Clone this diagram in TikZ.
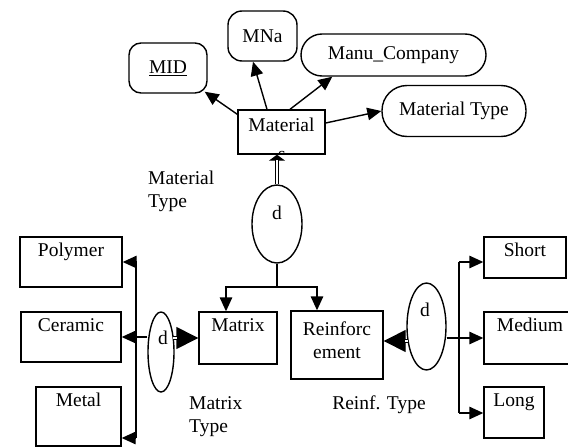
\documentclass[tikz,border=0pt]{standalone}
\usepackage{fontspec}
\setmainfont{Liberation Serif}
\usetikzlibrary{positioning, arrows.meta}
\usetikzlibrary{shapes.geometric}
\tikzstyle{ent}=[rectangle, draw, line width=1.4pt, inner sep=0pt]
\tikzstyle{attr}=[rectangle, draw, line width=1.4pt, inner sep=2pt]
\tikzstyle{disj}=[ellipse, draw, line width=1.4pt, inner sep=0pt]
\tikzstyle{txt}=[inner sep=0pt, text height=13.5pt, text depth=4.3pt]
\tikzstyle{ltxt}=[inner sep=0pt, align=left]
\tikzstyle{conn}=[line width=1.4pt]
\tikzstyle{arr}=[conn, -{Triangle[length=14pt,width=12.5pt]}]
\tikzstyle{isa}=[conn, -{Triangle[length=22pt,width=22pt]}]
\tikzstyle{dbl}=[double, double distance=2.4pt, line width=1.2pt]

\begin{document}
\begin{tikzpicture}[x=1pt, y=-1pt, font=\fontsize{19.5}{23}\selectfont]
\useasboundingbox (0,0) rectangle (568,447);

% Material and its attributes
\node[ent, minimum width=87pt, minimum height=44pt] (mat) at (281.5,132) {};
\node[txt] (matT) at ([yshift=-18pt]mat.north) {Material};
\begin{scope}
\clip (mat.south west) rectangle (mat.north east);
\node[txt] (matS) at (282,156) {s};
\end{scope}

\node[attr, rounded corners=12pt, minimum width=78pt, minimum height=50pt] (mid) at (168,68) {\underline{MID}\hspace{14pt}};
\node[attr, rounded corners=14pt, minimum width=69pt, minimum height=50pt] (mna) at (262.5,36) {MNa\hspace{6pt}};
\node[attr, rounded corners=21pt, minimum width=185pt, minimum height=42pt] (manu) at (393.5,55) {Manu\_Company\hspace{16pt}};
\node[attr, rounded corners=25pt, minimum width=144pt, minimum height=51pt] (mtype) at (454,111) {Material Type};

\draw[arr] ([yshift=-5pt]mat.north west) -- ([xshift=-3pt,yshift=2pt]mid.south east);
\draw[arr] ([xshift=-14.5pt]mat.north) -- ([xshift=-9.5pt]mna.south);
\draw[arr] ([xshift=8.5pt]mat.north) -- ([xshift=32pt]manu.south west);
\draw[arr] ([yshift=9pt]mat.east) -- (mtype.west);

% disjoint Material Type
\node[disj, minimum width=50pt, minimum height=78pt] (dtop) at (277,224) {};
\node[txt] (dtopT) at (277,215) {d};
\node[ltxt, anchor=west] (matTypeL) at (148,191.5) {Material\\Type};

\draw[conn, -{Triangle[length=6pt,width=16pt]}] (dtop.north) -- (dtop.north |- mat.south);
\draw[dbl, shorten >=5pt] (dtop.north) -- (dtop.north |- mat.south);

\node[ent, minimum width=78pt, minimum height=52pt] (matrixB) at (238,338) {};
\node[txt] (matrixT) at ([yshift=-16pt]matrixB.north) {Matrix};
\node[ent, minimum width=92pt, minimum height=68pt] (reinf) at (337,345) {};
\node[ltxt, align=center] (reinfT) at (337,340) {Reinforc\\ement};

\coordinate (jt) at (277,287);
\draw[conn] (dtop.south) -- (jt);
\draw[arr] (jt) -| ([xshift=-12pt]matrixB.north);
\draw[arr] (jt) -| ([xshift=-20pt]reinf.north);

% Matrix Type
\node[disj, minimum width=26pt, minimum height=80pt] (dleft) at (161,352) {};
\node[txt] (dleftT) at (163,340) {d};
\node[ltxt, anchor=west] (matrixTypeL) at (189,416.5) {Matrix\\Type};

\node[ent, minimum width=102pt, minimum height=50pt] (polymer) at (71,262) {};
\node[txt] (polymerT) at ([yshift=-16pt]polymer.north) {Polymer};
\node[ent, minimum width=100pt, minimum height=50pt] (ceramic) at (71,337) {};
\node[txt] (ceramicT) at ([yshift=-16pt]ceramic.north) {Ceramic};
\node[ent, minimum width=85pt, minimum height=59pt] (metal) at (78.5,416.5) {};
\node[txt] (metalT) at ([yshift=-16pt]metal.north) {Metal};

\coordinate (lbarT) at (136,262);
\coordinate (lbarB) at (136,438);
\draw[conn] (lbarT) -- (lbarB);
\draw[arr] (lbarT) -- (polymer.east |- lbarT);
\draw[arr] (lbarT |- ceramic.east) -- (ceramic.east);
\draw[arr] (lbarB) -- (metal.east |- lbarB);
\draw[conn] (dleft.west |- ceramic.east) -- (lbarT |- ceramic.east);

\draw[isa] (dleft.east |- matrixB.west) -- (matrixB.west);
\draw[dbl, shorten >=21pt] ([xshift=-2pt]dleft.east |- matrixB.west) -- (matrixB.west);

% Reinf. Type
\node[disj, minimum width=39pt, minimum height=87pt] (dright) at (426.5,326.5) {};
\node[txt] (drightT) at (425,312) {d};
\node[ltxt] (reinfTypeL) at (379,405) {Reinf. Type};

\node[ent, minimum width=82pt, minimum height=41pt] (short) at (525,257.5) {};
\node[txt] (shortT) at ([yshift=-16pt]short.north) {Short};
\node[ent, minimum width=92pt, minimum height=52pt] (medium) at (530,338) {};
\node[txt] (mediumT) at ([yshift=-16pt]medium.north) {Medium};
\node[ent, minimum width=60pt, minimum height=51pt] (long) at (514,412.5) {};
\node[txt] (longT) at ([yshift=-16pt]long.north) {Long};

\coordinate (rbarT) at (459,262);
\coordinate (rbarB) at (459,413);
\draw[conn] (rbarT) -- (rbarB);
\draw[arr] (rbarT) -- (short.west |- rbarT);
\draw[arr] (rbarT |- medium.west) -- (medium.west);
\draw[arr] (rbarB) -- (long.west |- rbarB);
\draw[conn] (dright.east |- medium.west) -- (rbarT |- medium.west);

\coordinate (reinfE) at ([yshift=4pt]reinf.east);
\draw[isa] ([xshift=1pt]dright.west |- reinfE) -- (reinfE);
\draw[dbl, shorten >=21pt] ([xshift=2pt]dright.west |- reinfE) -- (reinfE);

\end{tikzpicture}
\end{document}
